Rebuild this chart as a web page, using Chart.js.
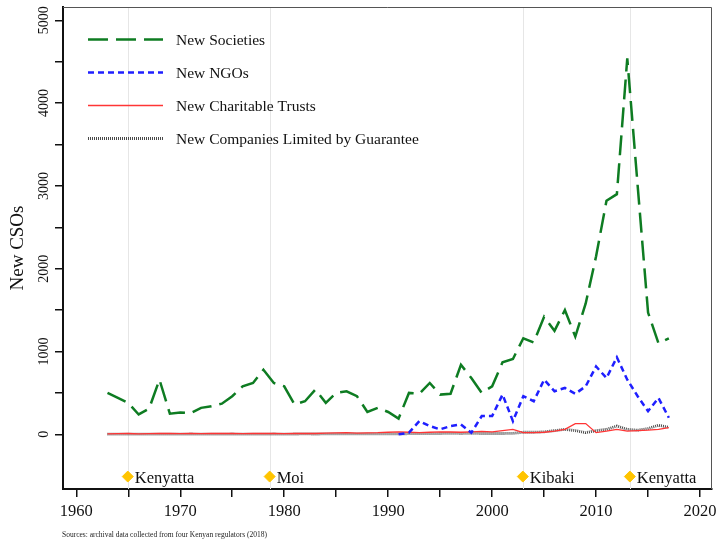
<!DOCTYPE html>
<html>
<head>
<meta charset="utf-8">
<script src="https://cdn.jsdelivr.net/npm/chart.js@4"></script>
<style>
  html, body { margin: 0; padding: 0; background: #fff; }
  #wrap { width: 719px; height: 545px; }
</style>
</head>
<body>
<div id="wrap"><canvas id="c" width="719" height="545"></canvas></div>
<script>
// ---- data ----
const years = [1963,1964,1965,1966,1967,1968,1969,1970,1971,1972,1973,1974,1975,1976,1977,1978,1979,1980,1981,1982,1983,1984,1985,1986,1987,1988,1989,1990,1991,1992,1993,1994,1995,1996,1997,1998,1999,2000,2001,2002,2003,2004,2005,2006,2007,2008,2009,2010,2011,2012,2013,2014,2015,2016,2017];
const newSocieties = [500,440,380,240,310,660,250,265,255,320,340,370,460,580,620,780,620,580,360,400,540,380,500,520,460,270,320,270,190,500,490,620,480,490,840,680,500,580,870,910,1160,1110,1420,1250,1500,1180,1580,2150,2820,2900,4540,3000,1470,1100,1160];
const ngoYears = [1991,1992,1993,1994,1995,1996,1997,1998,1999,2000,2001,2002,2003,2004,2005,2006,2007,2008,2009,2010,2011,2012,2013,2014,2015,2016,2017];
const newNGOs = [0,20,160,100,60,100,120,20,220,220,480,160,460,400,660,520,560,490,580,820,680,930,660,460,280,440,200];
const newTrusts = [5,8,10,6,8,10,12,8,10,8,10,12,10,8,10,12,10,8,10,12,10,15,18,20,15,18,20,25,30,25,20,25,30,28,25,30,35,30,45,60,20,20,25,40,60,130,130,20,40,60,40,45,50,60,80];
const newCompanies = [2,3,2,3,2,3,2,3,4,3,2,3,4,3,2,3,4,3,4,5,4,5,6,5,6,5,6,5,5,8,10,8,10,12,10,12,10,10,10,12,25,25,30,45,60,45,20,45,60,100,60,50,70,110,85];
const seriesNames = ["New Societies","New NGOs","New Charitable Trusts","New Companies Limited by Guarantee"];
const presidents = ["Kenyatta","Moi","Kibaki","Kenyatta"];
const presidentYears = [1964.95,1978.6,2002.95,2013.25];
const presidentLevel = -510;
const yTickLabels = [0,1000,2000,3000,4000,5000];
const yTickMarks = [0,500,1000,1500,2000,2500,3000,3500,4000,4500,5000];
const xTickMarks = [1960,1965,1970,1975,1980,1985,1990,1995,2000,2005,2010,2015,2020];
const xTickLabels = [1960,1970,1980,1990,2000,2010,2020];
const sourceNote = "Sources: archival data collected from four Kenyan regulators (2018)";

const SERIF = "'Liberation Serif', 'DejaVu Serif', serif";
const pts = (xs, ys) => xs.map((x, i) => ({x: x, y: ys[i]}));

const overlay = {
  id: 'overlay',
  beforeDatasetsDraw(chart) {
    const {ctx, chartArea: a, scales: {x}} = chart;
    ctx.save();
    ctx.strokeStyle = '#e6e6e6';
    ctx.lineWidth = 1;
    presidentYears.forEach(py => {
      const px = Math.round(x.getPixelForValue(py)) + 0.5;
      ctx.beginPath(); ctx.moveTo(px, a.top); ctx.lineTo(px, a.bottom); ctx.stroke();
    });
    ctx.restore();
  },
  afterDraw(chart) {
    const {ctx, chartArea: a, scales: {x, y}} = chart;
    ctx.save();
    ctx.strokeStyle = '#555';
    ctx.lineWidth = 1;
    ctx.beginPath();
    ctx.moveTo(a.left, a.top + 0.5); ctx.lineTo(a.right - 0.5, a.top + 0.5); ctx.lineTo(a.right - 0.5, a.bottom);
    ctx.stroke();
    ctx.fillStyle = '#111';
    ctx.font = "14px " + SERIF;
    ctx.textAlign = 'center';
    ctx.textBaseline = 'middle';
    yTickLabels.forEach(v => {
      const py = y.getPixelForValue(v);
      ctx.save();
      ctx.translate(44, py);
      ctx.rotate(-Math.PI / 2);
      ctx.fillText(String(v), 0, 0);
      ctx.restore();
    });
    ctx.font = "16.5px " + SERIF;
    ctx.textAlign = 'left';
    presidents.forEach((n, i) => {
      ctx.fillText(n, x.getPixelForValue(presidentYears[i]) + 7, y.getPixelForValue(presidentLevel) + 2);
    });
    const rows = [39.5, 72.5, 105.5, 138.5];
    chart.data.datasets.slice(0, 4).forEach((ds, i) => {
      ctx.save();
      ctx.strokeStyle = ds.borderColor;
      ctx.lineWidth = ds.borderWidth;
      ctx.setLineDash(ds.borderDash || []);
      ctx.beginPath(); ctx.moveTo(88, rows[i]); ctx.lineTo(163, rows[i]); ctx.stroke();
      ctx.restore();
      ctx.fillStyle = '#111';
      ctx.font = "15.5px " + SERIF;
      ctx.textBaseline = 'middle';
      ctx.fillText(ds.label, 176, rows[i] + 1);
    });
    ctx.font = "7.5px " + SERIF;
    ctx.fillStyle = '#222';
    ctx.fillText(sourceNote, 62, 535);
    ctx.restore();
  }
};

new Chart(document.getElementById('c'), {
  type: 'line',
  data: {
    datasets: [
      { label: seriesNames[0], data: pts(years, newSocieties), borderColor: '#0e7c22', borderWidth: 2.5, borderDash: [20, 8], pointRadius: 0, tension: 0, fill: false },
      { label: seriesNames[1], data: pts(ngoYears, newNGOs), borderColor: '#1f1fff', borderWidth: 2.5, borderDash: [6, 4], pointRadius: 0, tension: 0, fill: false },
      { label: seriesNames[2], data: pts(years, newTrusts), borderColor: '#ff3535', borderWidth: 1.3, pointRadius: 0, tension: 0, fill: false },
      { label: seriesNames[3], data: pts(years, newCompanies), borderColor: '#4a4a4a', borderWidth: 2.8, borderDash: [1, 1], pointRadius: 0, tension: 0, fill: false },
      { label: 'Presidents', data: pts(presidentYears, presidentYears.map(() => presidentLevel)), showLine: false, pointStyle: 'rectRot', pointRadius: 5.5, pointBackgroundColor: '#ffc400', pointBorderColor: '#ffc400', borderColor: '#ffc400' }
    ]
  },
  options: {
    responsive: false,
    animation: false,
    devicePixelRatio: 1,
    layout: { padding: { top: 7, right: 7, left: 0, bottom: 0 } },
    plugins: { legend: { display: false }, tooltip: { enabled: false } },
    scales: {
      x: {
        type: 'linear',
        min: 1958.72,
        max: 2021.15,
        afterBuildTicks: s => { s.ticks = xTickMarks.map(v => ({value: v})); },
        afterFit: s => { s.height = 56; s.paddingLeft = 0; s.paddingRight = 0; },
        ticks: {
          autoSkip: false, maxRotation: 0, minRotation: 0, padding: 5, color: '#111',
          font: { family: SERIF, size: 16.5 },
          callback: v => xTickLabels.includes(v) ? String(v) : ''
        },
        grid: { drawOnChartArea: false, drawTicks: true, tickLength: 8, color: '#111', lineWidth: 1.5 },
        border: { display: true, color: '#111', width: 2 }
      },
      y: {
        min: -660,
        max: 5160,
        afterBuildTicks: s => { s.ticks = yTickMarks.map(v => ({value: v})); },
        afterFit: s => { s.width = 63; },
        ticks: { display: false },
        grid: { drawOnChartArea: false, drawTicks: true, tickLength: 8, color: '#111', lineWidth: 1.5 },
        border: { display: true, color: '#111', width: 2 },
        title: { display: true, text: 'New CSOs', color: '#111', font: { family: SERIF, size: 19 }, padding: { top: 7, bottom: 0 } }
      }
    }
  },
  plugins: [overlay]
});
</script>
</body>
</html>
